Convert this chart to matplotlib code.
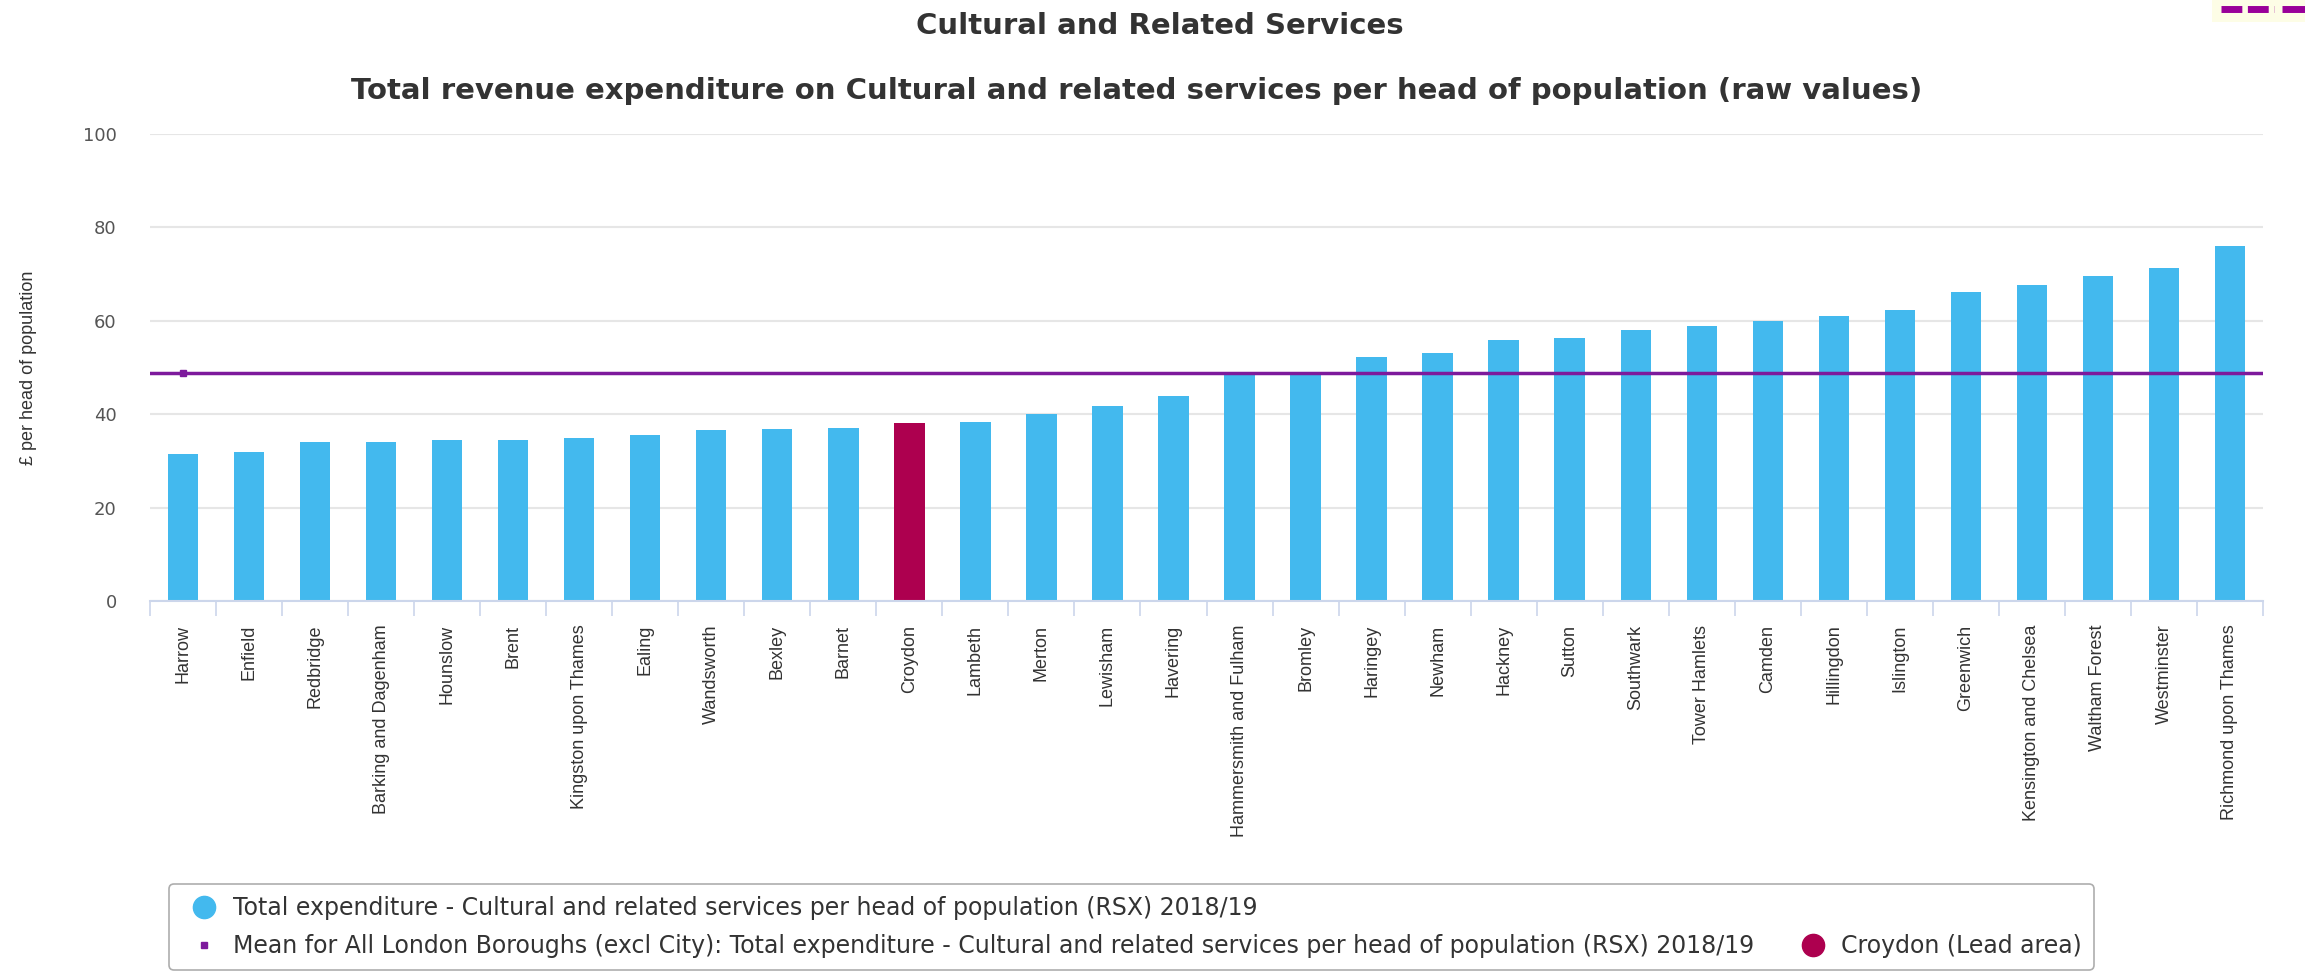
import matplotlib
matplotlib.use("Agg")
import matplotlib.pyplot as plt
from matplotlib.lines import Line2D
from matplotlib.patches import Rectangle
from matplotlib.ticker import FixedLocator, MultipleLocator

boroughs = [
    "Harrow", "Enfield", "Redbridge", "Barking and Dagenham", "Hounslow", "Brent",
    "Kingston upon Thames", "Ealing", "Wandsworth", "Bexley", "Barnet", "Croydon",
    "Lambeth", "Merton", "Lewisham", "Havering", "Hammersmith and Fulham", "Bromley",
    "Haringey", "Newham", "Hackney", "Sutton", "Southwark", "Tower Hamlets", "Camden",
    "Hillingdon", "Islington", "Greenwich", "Kensington and Chelsea", "Waltham Forest",
    "Westminster", "Richmond upon Thames",
]
spend_per_head = [
    31.4, 31.8, 34.0, 34.1, 34.4, 34.5,
    34.9, 35.6, 36.7, 36.8, 37.1, 38.2,
    38.3, 40.1, 41.7, 44.0, 48.6, 48.8,
    52.2, 53.0, 55.8, 56.4, 58.0, 58.9, 60.0,
    61.1, 62.3, 66.1, 67.6, 69.6,
    71.2, 76.1,
]
london_mean = 48.9
lead_area = "Croydon"

title = "Cultural and Related Services"
subtitle = ("Total revenue expenditure on Cultural and related services per head of "
            "population (raw values)")
series_label = ("Total expenditure - Cultural and related services per head of "
                "population (RSX) 2018/19")
mean_label = ("Mean for All London Boroughs (excl City): Total expenditure - Cultural "
              "and related services per head of population (RSX) 2018/19")
lead_label = "Croydon (Lead area)"

BLUE = "#43b9ee"
LEAD = "#ad004f"
PURPLE = "#7d1a9c"
W, H = 2305, 973

fig = plt.figure(figsize=(W / 100, H / 100), dpi=100)
ax = fig.add_axes([150 / W, 1 - 601 / H, (2263 - 150) / W, (601 - 134) / H])

x = range(len(boroughs))
colors = [LEAD if b == lead_area else BLUE for b in boroughs]
ax.bar(x, spend_per_head, width=0.46, color=colors, zorder=2)

ax.axhline(london_mean, color=PURPLE, lw=2.5, zorder=3)
ax.plot(0, london_mean, marker="s", ms=5, color=PURPLE, zorder=4)

ax.set_xlim(-0.5, len(boroughs) - 0.5)
ax.set_ylim(0, 100)
ax.yaxis.set_major_locator(MultipleLocator(20))
ax.grid(axis="y", color="#e6e6e6", lw=1.5, zorder=0)
ax.set_axisbelow(True)
for side in ["top", "right", "left"]:
    ax.spines[side].set_visible(False)
ax.spines["bottom"].set_color("#ccd6eb")
ax.spines["bottom"].set_linewidth(1.5)

ax.set_xticks(list(x))
ax.set_xticklabels(boroughs, rotation=90, fontsize=13, family="Liberation Sans",
                   color="#333333", va="top", ha="center")
ax.tick_params(axis="x", which="major", length=0, pad=17)
ax.xaxis.set_minor_locator(FixedLocator([i - 0.5 for i in range(len(boroughs) + 1)]))
ax.tick_params(axis="x", which="minor", length=11, width=1.2, color="#ccd6eb")
ax.tick_params(axis="y", length=0, pad=24, labelsize=13, labelcolor="#555555")

ax.set_ylabel("£ per head of population", fontsize=13, family="Liberation Sans",
              color="#333333")
ax.yaxis.set_label_coords(-113 / (2263 - 150), 0.5)

fig.text(0.503, 1 - 26 / H, title, ha="center", va="center", fontsize=21,
         fontweight="bold", color="#333333")
fig.text(0.493, 1 - 91 / H, subtitle, ha="center", va="center", fontsize=21,
         fontweight="bold", color="#333333")

handles = [
    Line2D([], [], ls="None", marker="o", ms=16, mfc=BLUE, mec=BLUE),
    Line2D([], [], ls="None", marker="s", ms=5, mfc=PURPLE, mec=PURPLE),
    Line2D([], [], ls="None"),
    Line2D([], [], ls="None", marker="o", ms=16, mfc=LEAD, mec=LEAD),
]
labels = [series_label, mean_label, " ", lead_label]
leg = fig.legend(handles, labels, ncol=2, loc="lower left",
                 bbox_to_anchor=(169 / W, 3 / H), borderaxespad=0,
                 fontsize=17, handlelength=2.0, handletextpad=0.2,
                 columnspacing=1.5, labelspacing=0.6, borderpad=0.5,
                 frameon=True, fancybox=True, edgecolor="#999999")
leg.get_frame().set_linewidth(1.2)
for t in leg.get_texts():
    t.set_color("#333333")

# clipped dashed symbol in the top-right corner
fig.patches.append(Rectangle((2212 / W, 1 - 22 / H), (W - 2212) / W, 22 / H,
                             transform=fig.transFigure, facecolor="#fdfde6",
                             edgecolor="none"))
fig.lines.append(Line2D([2221 / W, 2274 / W], [1 - 8.5 / H] * 2, transform=fig.transFigure,
                        color="#990099", lw=5, dashes=(3, 0.8), solid_capstyle="butt",
                        dash_capstyle="butt"))
fig.lines.append(Line2D([2282 / W, 1.0], [1 - 8.5 / H] * 2, transform=fig.transFigure,
                        color="#990099", lw=5, solid_capstyle="butt"))

fig.savefig("out.png", dpi=100)
